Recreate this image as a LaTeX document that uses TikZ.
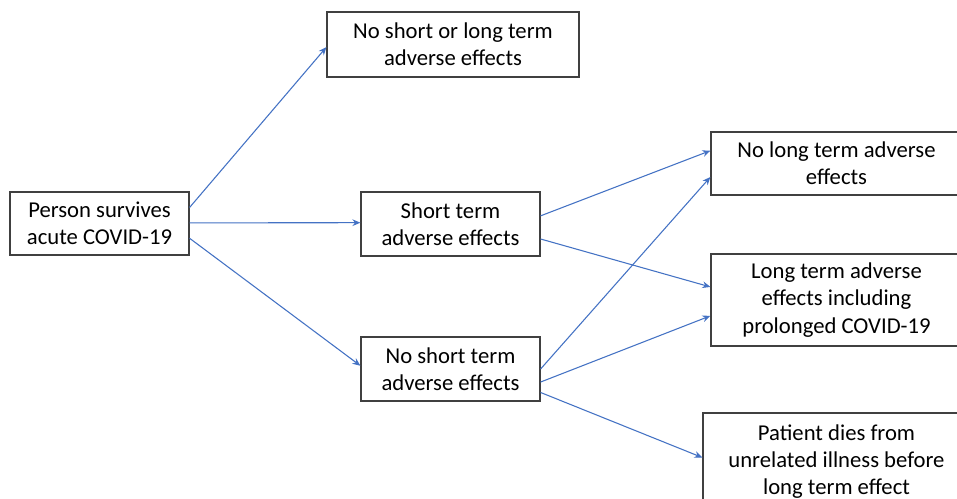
\documentclass[tikz,border=0pt]{standalone}
\usepackage{fontspec}
\setmainfont{Carlito}
\usetikzlibrary{arrows.meta,calc}
\definecolor{linkblue}{RGB}{68,114,196}
\definecolor{boxgray}{RGB}{64,64,64}
\begin{document}
\begin{tikzpicture}[x=0.75pt,y=-0.75pt,
  box/.style={draw=boxgray,line width=0.9pt,fill=white,align=center,inner sep=0pt,
    font=\fontsize{17}{20.4}\selectfont},
  link/.style={draw=linkblue,line width=0.8pt,-{Stealth[length=6pt,width=5pt]}}]
\fill[white] (0,0) rectangle (957,499);
\useasboundingbox (0,0) rectangle (957,499);

% outcome boxes
\node[box,minimum width=134.25pt,minimum height=47.25pt] (A) at (99.5,223.5) {Person survives\\acute COVID-19};
\node[box,minimum width=189pt,minimum height=48.75pt] (B) at (453,44.5) {No short or long term\\adverse effects};
\node[box,minimum width=134.25pt,minimum height=48pt] (C) at (450.5,224) {Short term\\adverse effects};
\node[box,minimum width=134.25pt,minimum height=48pt] (D) at (450.5,369) {No short term\\adverse effects};
\node[box,minimum width=188.25pt,minimum height=47.25pt] (E) at (836.5,163.5) {No long term adverse\\effects};
\node[box,minimum width=188.25pt,minimum height=69pt] (F) at (836.5,300) {Long term adverse\\effects including\\prolonged COVID-19};
\node[box,minimum width=200.25pt,minimum height=72.75pt] (G) at (836.5,461.5) {Patient dies from\\unrelated illness before\\long term effect};

% transitions
\draw[link] ($(A.north east)!0.25!(A.south east)$) -- ($(B.north west)!0.54!(B.south west)$);
\draw[link] ($(A.north east)!0.49!(A.south east)$) -- ($(C.north west)!0.48!(C.south west)$);
\draw[link] ($(A.north east)!0.73!(A.south east)$) -- ($(D.north west)!0.45!(D.south west)$);
\draw[link] ($(C.north east)!0.375!(C.south east)$) -- ($(E.north west)!0.30!(E.south west)$);
\draw[link] ($(C.north east)!0.73!(C.south east)$) -- ($(F.north west)!0.36!(F.south west)$);
\draw[link] ($(D.north east)!0.5!(D.south east)$) -- ($(E.north west)!0.71!(E.south west)$);
\draw[link] ($(D.north east)!0.70!(D.south east)$) -- ($(F.north west)!0.67!(F.south west)$);
\draw[link] ($(D.north east)!0.86!(D.south east)$) -- ($(G.north west)!0.46!(G.south west)$);
\end{tikzpicture}
\end{document}
